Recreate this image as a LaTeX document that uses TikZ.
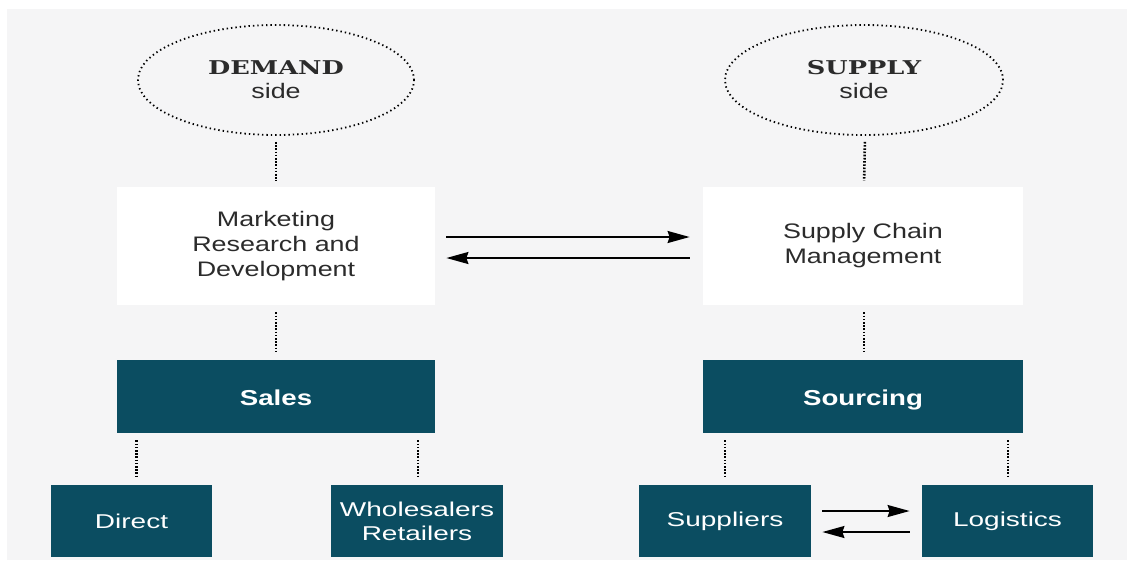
\documentclass[tikz,border=0pt]{standalone}
\usepackage{fontspec}
\setmainfont{Liberation Sans}
\newfontfamily\bxfont[FakeStretch=1.28]{Liberation Sans}
\newfontfamily\bxwfont[FakeStretch=1.4]{Liberation Sans}
\newfontfamily\slabfont[FakeStretch=1.35]{DejaVu Serif}
\usetikzlibrary{shapes.geometric,arrows.meta}
\definecolor{teal}{HTML}{0B4D61}
\definecolor{panel}{HTML}{F5F5F6}
\definecolor{txt}{HTML}{2B2B2B}
\tikzset{
  sidebubble/.style={ellipse, draw=black, line width=0.9pt, dash pattern=on 0.7pt off 1.5pt, inner sep=0pt, align=center, text=txt},
  whitebox/.style={rectangle, fill=white, inner sep=0pt, align=center, text=txt, font=\bxfont\fontsize{10.5pt}{12.5pt}\selectfont},
  tealbox/.style={rectangle, fill=teal, inner sep=0pt, align=center, text=white, text height=9pt, text depth=0.5pt, font=\bxfont\bfseries\fontsize{10.8pt}{12.5pt}\selectfont},
  leafbox/.style={rectangle, fill=teal, inner sep=0pt, align=center, text=white, font=\bxwfont\fontsize{10pt}{12pt}\selectfont},
  dotlink/.style={line width=1.3pt, dash pattern=on 0.8pt off 0.8pt},
  flow/.style={line width=0.85pt, -{Stealth[length=11pt,width=6pt,inset=1pt]}}
}
\begin{document}
\begin{tikzpicture}[x=0.5pt,y=-0.5pt]
\useasboundingbox (0,0) rectangle (1127,564);
\fill[white] (0,0) rectangle (1127,564);
\fill[panel] (7,9) rectangle (1127,560);

\node[sidebubble, minimum width=138pt, minimum height=55pt] (demand) at (276,80)
  {{\slabfont\bfseries\fontsize{9.5pt}{11.5pt}\selectfont DEMAND}\\[0pt]{\bxfont\fontsize{10.5pt}{11.5pt}\selectfont side}};
\node[sidebubble, minimum width=139pt, minimum height=55pt] (supply) at (864,80)
  {{\slabfont\bfseries\fontsize{9.5pt}{11.5pt}\selectfont SUPPLY}\\[0pt]{\bxfont\fontsize{10.5pt}{11.5pt}\selectfont side}};

\node[whitebox, minimum width=159pt, minimum height=59pt] (mrd) at (276,246)
  {Marketing\\Research and\\Development};
\node[whitebox, minimum width=160pt, minimum height=59pt] (scm) at (863,246)
  {Supply Chain\\Management};

\node[tealbox, minimum width=159pt, minimum height=36.5pt] (sales) at (276,396.5) {Sales};
\node[tealbox, minimum width=160pt, minimum height=36.5pt] (sourcing) at (863,396.5) {Sourcing};

\node[leafbox, minimum width=80.5pt, minimum height=36pt] (direct) at (131.5,521) {Direct};
\node[leafbox, minimum width=86pt, minimum height=36pt] (wholesale) at (417,521) {Wholesalers\\Retailers};
\node[leafbox, minimum width=86pt, minimum height=36pt] (suppliers) at (725,521) {Suppliers};
\node[leafbox, minimum width=85.5pt, minimum height=36pt] (logistics) at (1007.5,521) {Logistics};

% dotted links
\draw[dotlink, shorten <=3pt, shorten >=3pt] (demand.south) -- (mrd.north);
\draw[dotlink, shorten <=3pt, shorten >=3pt] ([xshift=0.5pt]supply.south) -- ([xshift=0.5pt]scm.north);
\draw[dotlink, shorten <=3.5pt, shorten >=4pt] (mrd.south) -- (sales.north);
\draw[dotlink, shorten <=3.5pt, shorten >=4pt] ([xshift=0.5pt]scm.south) -- ([xshift=0.5pt]sourcing.north);
\draw[dotlink, shorten <=3.5pt, shorten >=3.5pt] ([xshift=2.5pt]direct.north |- sales.south) -- ([xshift=2.5pt]direct.north);
\draw[dotlink, shorten <=3.5pt, shorten >=3.5pt] ([xshift=0.5pt]wholesale.north |- sales.south) -- ([xshift=0.5pt]wholesale.north);
\draw[dotlink, shorten <=3.5pt, shorten >=3.5pt] (suppliers.north |- sourcing.south) -- (suppliers.north);
\draw[dotlink, shorten <=3.5pt, shorten >=3.5pt] ([xshift=0.25pt]logistics.north |- sourcing.south) -- ([xshift=0.25pt]logistics.north);

% flow arrows
\draw[flow, shorten <=5.5pt, shorten >=6.5pt] ([yshift=4.5pt]mrd.east) -- ([yshift=4.5pt]scm.west);
\draw[flow, shorten <=6.5pt, shorten >=5.5pt] ([yshift=-6pt]scm.west) -- ([yshift=-6pt]mrd.east);
\draw[flow, shorten <=5.5pt, shorten >=6pt] ([yshift=5pt]suppliers.east) -- ([yshift=5pt]logistics.west);
\draw[flow, shorten <=6pt, shorten >=5.5pt] ([yshift=-5.5pt]logistics.west) -- ([yshift=-5.5pt]suppliers.east);
\end{tikzpicture}
\end{document}
